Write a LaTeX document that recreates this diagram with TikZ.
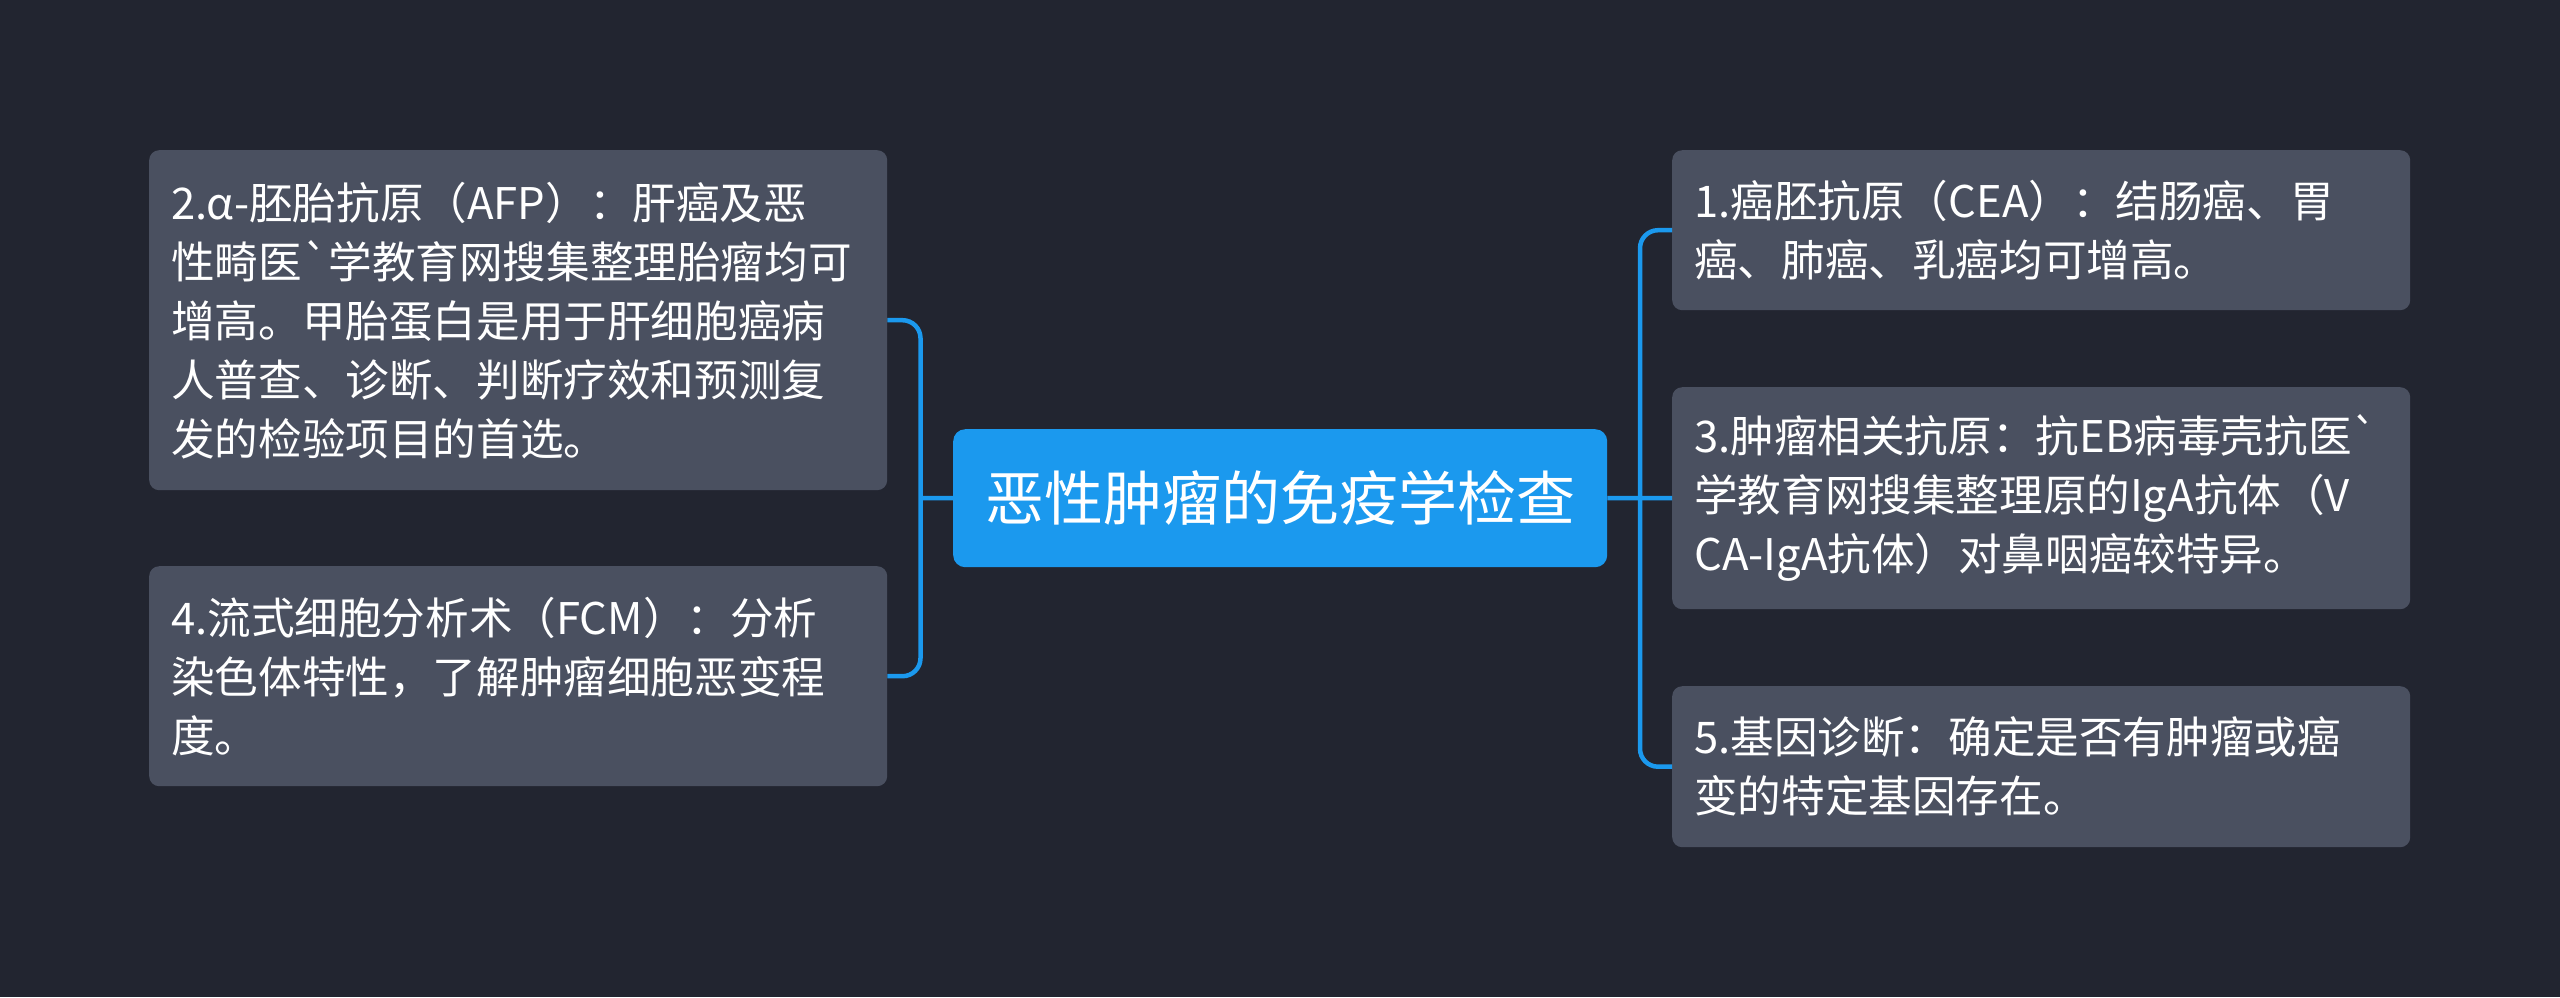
\documentclass[tikz,border=0pt]{standalone}
\usepackage{fontspec}
\newfontfamily\cjk{Noto Sans CJK SC}
\definecolor{bg}{HTML}{222530}
\definecolor{boxc}{HTML}{4A5060}
\definecolor{bluec}{HTML}{1B99EE}
\tikzset{
  leaf/.style={fill=boxc, rounded corners=10pt, text=white, align=left,
    inner xsep=22pt, inner ysep=0pt, text width=694pt,
    font=\cjk\fontsize{43.6pt}{59pt}\selectfont, anchor=north west},
  root/.style={fill=bluec, rounded corners=12pt, text=white,
    minimum width=654pt, minimum height=138pt, inner sep=0pt,
    font=\cjk\fontsize{59pt}{70pt}\selectfont, anchor=north west},
  link/.style={draw=bluec, line width=4.5pt, rounded corners=18pt}
}
\begin{document}
\begin{tikzpicture}[x=1pt,y=-1pt]
\fill[bg] (0,0) rectangle (2560,997);
\useasboundingbox (0,0) rectangle (2560,997);
\node[root] (c) at (953,429) {恶性肿瘤的免疫学检查};
\node[leaf, minimum height=340pt] (b2) at (149,150) {2.α-胚胎抗原（AFP）：肝癌及恶\\性畸医`学教育网搜集整理胎瘤均可\\增高。甲胎蛋白是用于肝细胞癌病\\人普查、诊断、判断疗效和预测复\\发的检验项目的首选。};
\node[leaf, minimum height=220pt] (b4) at (149,566) {4.流式细胞分析术（FCM）：分析\\染色体特性，了解肿瘤细胞恶变程\\度。};
\node[leaf, minimum height=160pt] (b1) at (1672,150) {1.癌胚抗原（CEA）：结肠癌、胃\\癌、肺癌、乳癌均可增高。};
\node[leaf, minimum height=222pt] (b3) at (1672,387) {3.肿瘤相关抗原：抗EB病毒壳抗医`\\学教育网搜集整理原的IgA抗体（V\\CA-IgA抗体）对鼻咽癌较特异。};
\node[leaf, minimum height=161pt] (b5) at (1672,686) {5.基因诊断：确定是否有肿瘤或癌\\变的特定基因存在。};
\coordinate (lj) at (920.5,498);
\coordinate (rj) at (1640,498);
\draw[link] (b2.east) -| (lj) |- (b4.east);
\draw[link] (lj) -- (c.west);
\draw[link] (b1.west) -| (rj) |- (b5.west);
\draw[link] (rj) -- (c.east);
\draw[link] (rj) -- (b3.west);
\end{tikzpicture}
\end{document}
